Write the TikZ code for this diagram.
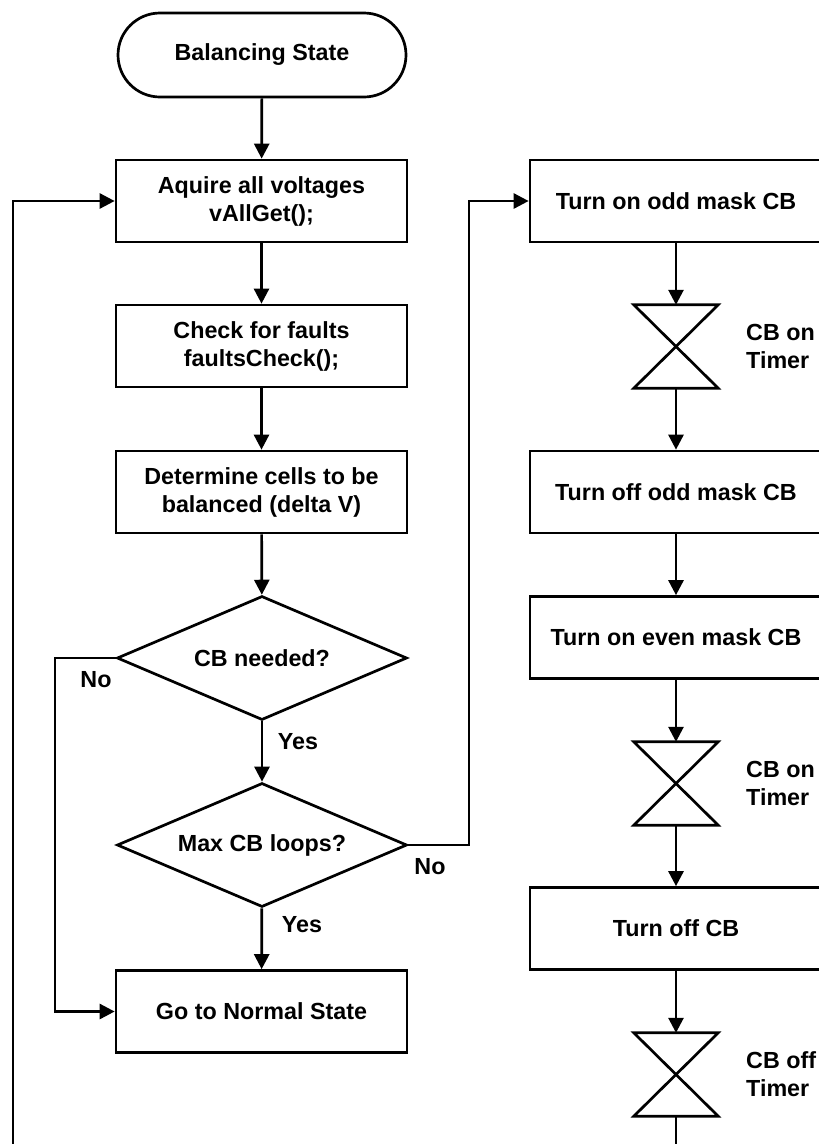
\documentclass[tikz,border=0pt]{standalone}
\usepackage{fontspec}
\setmainfont{Liberation Sans}
\usetikzlibrary{arrows.meta,shapes.geometric}
\begin{document}
\begin{tikzpicture}[x=1pt,y=-1pt,
  every node/.style={font=\fontsize{23.3}{28}\selectfont\bfseries},
  lw/.style={line width=2.7pt},
  procbox/.style={lw,draw,rectangle,minimum width=291pt,minimum height=82pt,inner sep=0pt,align=center},
  termbox/.style={lw,draw,rectangle,rounded corners=42pt,minimum width=288pt,minimum height=84pt,inner sep=0pt},
  decbox/.style={lw,draw,diamond,aspect=2.34,minimum width=290pt,minimum height=124pt,inner sep=0pt},
  timerbox/.style={rectangle,minimum width=84pt,minimum height=83pt,inner sep=0pt},
  timerlbl/.style={anchor=west,align=left,inner sep=0pt},
  lbl/.style={inner sep=0pt},
  conn/.style={lw,-{Triangle[length=15pt,width=15pt]}},
  plain/.style={lw}
]
\useasboundingbox (0,0) rectangle (819,1144);
\clip (0,0) rectangle (819,1144);
% left column
\node[termbox] (start) at (262,55) {Balancing State};
\node[procbox] (b1) at (261.5,201) {Aquire all voltages\\vAllGet();};
\node[procbox] (b2) at (261.5,346) {Check for faults\\faultsCheck();};
\node[procbox] (b3) at (261.5,492) {Determine cells to be\\balanced (delta V)};
\node[decbox] (d1) at (262,658) {CB needed?};
\node[decbox] (d2) at (262,845) {Max CB loops?};
\node[procbox] (normal) at (261.5,1011.5) {Go to Normal State};
% right column
\node[procbox,minimum width=292pt] (r1) at (676,201) {Turn on odd mask CB};
\node[timerbox] (t1) at (676,346.5) {};
\node[procbox,minimum width=292pt] (r2) at (676,492) {Turn off odd mask CB};
\node[procbox,minimum width=292pt] (r3) at (676,637.5) {Turn on even mask CB};
\node[timerbox] (t2) at (676,783.5) {};
\node[procbox,minimum width=292pt] (r4) at (676,928.5) {Turn off CB};
\node[timerbox] (t3) at (676,1074.5) {};
% hourglass timers
\foreach \t in {t1,t2,t3}{
  \draw[plain] (\t.north west) -- (\t.north east) -- (\t.south west) -- (\t.south east) -- cycle;
}
\node[timerlbl] (tl1) at (746,346.5) {CB on\\Timer};
\node[timerlbl] (tl2) at (746,783.5) {CB on\\Timer};
\node[timerlbl] (tl3) at (746,1074.5) {CB off\\Timer};
% labels
\node[lbl] (no1) at (96,680) {No};
\node[lbl] (yes1) at (298,742) {Yes};
\node[lbl] (no2) at (430,867) {No};
\node[lbl] (yes2) at (302,925) {Yes};
% coordinates for bends
\coordinate (nL) at (55,658);
\coordinate (nR) at (469,845);
\coordinate (loopR) at (676,1180);
\coordinate (loopL) at (13,1180);
% connectors
\draw[conn] (start) -- (b1);
\draw[conn] (b1) -- (b2);
\draw[conn] (b2) -- (b3);
\draw[conn] (b3) -- (d1);
\draw[conn] (d1) -- (d2);
\draw[conn] (d2) -- (normal);
\draw[conn] (d1.west) -- (nL) |- (normal.west);
\draw[conn] (d2.east) -- (nR) |- (r1.west);
\draw[conn] (r1) -- (t1);
\draw[conn] (t1) -- (r2);
\draw[conn] (r2) -- (r3);
\draw[conn] (r3) -- (t2);
\draw[conn] (t2) -- (r4);
\draw[conn] (r4) -- (t3);
\draw[conn] (t3.south) -- (loopR) -- (loopL) |- (b1.west);
\end{tikzpicture}
\end{document}
